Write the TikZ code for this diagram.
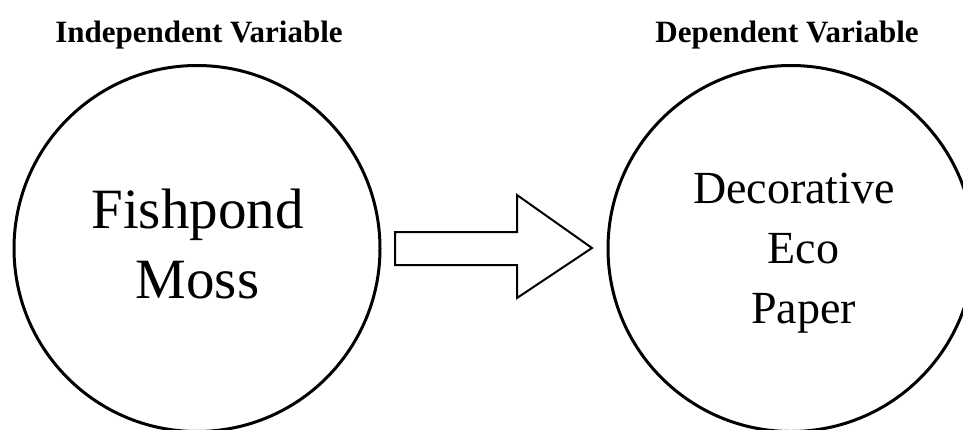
\documentclass[tikz,border=0pt]{standalone}
\usepackage{fontspec}
\setmainfont{Liberation Serif}
\begin{document}
\begin{tikzpicture}[x=1pt,y=-1pt,
  bubble/.style={circle,draw=black,line width=3pt,minimum size=366pt,inner sep=0pt},
  heading/.style={font=\fontsize{31}{36}\selectfont\bfseries,anchor=base,inner sep=0pt},
  bigtext/.style={align=center,anchor=base,inner sep=0pt},
  blockarrow/.style={draw=black,line width=2pt,fill=white,line join=miter}]
\useasboundingbox (0,0) rectangle (963,429);
\clip (0,0) rectangle (963,429);
\node[bubble] (iv) at (197,248.5) {};
\node[bubble] (dv) at (791,248.5) {};
\node[heading] (ivh) at (199,42) {Independent Variable};
\node[heading] (dvh) at (787,42) {Dependent Variable};
\node[bigtext,font=\fontsize{57}{70}\selectfont] (ivt) at (197.5,298) {Fishpond\\Moss};
\node[bigtext,font=\fontsize{46}{60}\selectfont] (dvt) at (794,323) {Decorative\\\hspace*{19pt}Eco\\\hspace*{19pt}Paper};
\coordinate (a1) at (395,232);
\coordinate (a2) at (517,232);
\coordinate (a3) at (517,195);
\coordinate (a4) at (592,248);
\coordinate (a5) at (517,298);
\coordinate (a6) at (517,265);
\coordinate (a7) at (395,265);
\draw[blockarrow] (a1) -- (a2) -- (a3) -- (a4) -- (a5) -- (a6) -- (a7) -- cycle;
\end{tikzpicture}
\end{document}
